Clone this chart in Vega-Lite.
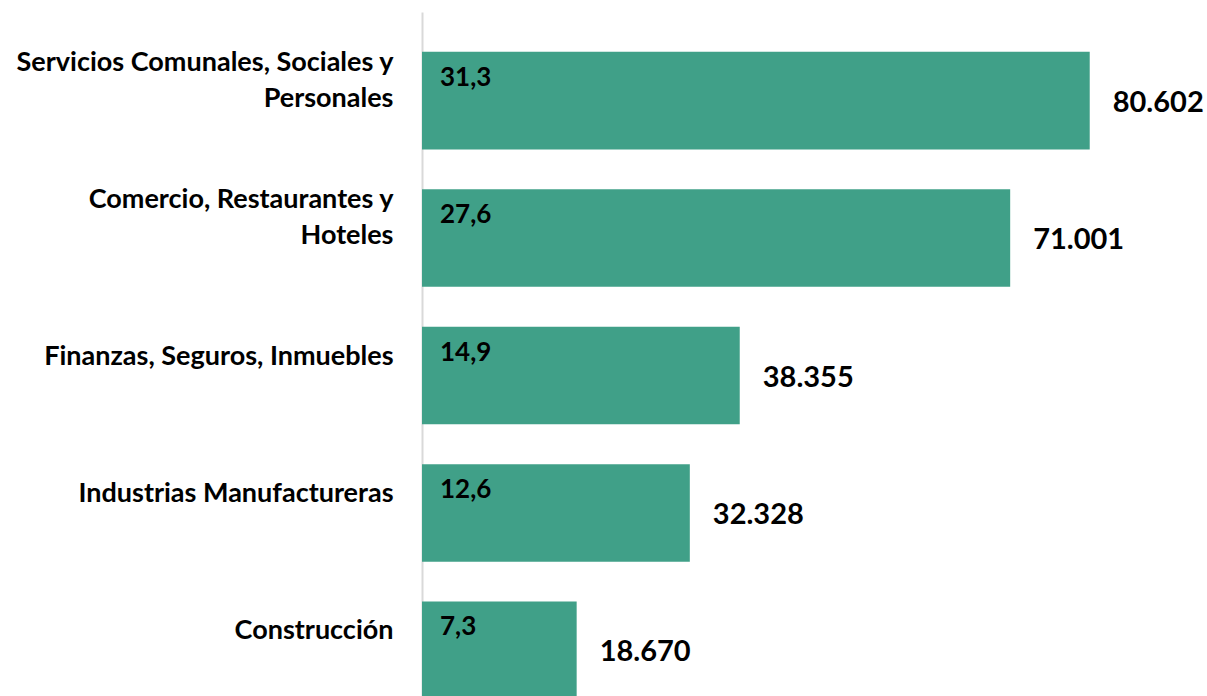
{
  "$schema": "https://vega.github.io/schema/vega-lite/v6.json",
  "width": 787,
  "height": 727,
  "autosize": "none",
  "padding": {"left": 422, "top": 12, "right": 0, "bottom": 0},
  "background": "white",
  "config": {
    "view": {"stroke": null},
    "font": "Lato",
    "locale": {"number": {"decimal": ",", "thousands": ".", "grouping": [3], "currency": ["", " €"]}}
  },
  "data": {
    "values": [
      {"sector": "Servicios Comunales, Sociales y|Personales", "total": 80602, "pct": 31.3},
      {"sector": "Comercio, Restaurantes y|Hoteles", "total": 71001, "pct": 27.6},
      {"sector": "Finanzas, Seguros, Inmuebles", "total": 38355, "pct": 14.9},
      {"sector": "Industrias Manufactureras", "total": 32328, "pct": 12.6},
      {"sector": "Construcción", "total": 18670, "pct": 7.3}
    ]
  },
  "encoding": {
    "y": {
      "field": "sector",
      "type": "nominal",
      "sort": null,
      "scale": {"paddingInner": 0.29, "paddingOuter": 0.29},
      "axis": {
        "title": null,
        "domainColor": "#d9d9d9",
        "domainWidth": 2,
        "ticks": false,
        "grid": false,
        "labelFont": "Lato",
        "labelFontSize": 27,
        "labelFontWeight": "bold",
        "labelColor": "#000000",
        "labelPadding": 29,
        "labelOffset": {"condition": {"test": "indexof(datum.value, '|') >= 0", "value": -38}, "value": -19},
        "labelLineHeight": 36,
        "labelLimit": 0,
        "labelExpr": "split(datum.label, '|')"
      }
    }
  },
  "layer": [
    {
      "mark": {"type": "bar", "color": "#40a088"},
      "encoding": {
        "x": {"field": "total", "type": "quantitative", "scale": {"domain": [0, 95000], "nice": false}, "axis": null}
      }
    },
    {
      "mark": {"type": "text", "align": "left", "baseline": "middle", "dx": 18, "dy": -23, "fontSize": 26, "fontWeight": "bold", "color": "#000000"},
      "encoding": {
        "x": {"datum": 0, "type": "quantitative"},
        "text": {"field": "pct", "type": "quantitative", "format": ".1f"}
      }
    },
    {
      "mark": {"type": "text", "align": "left", "baseline": "middle", "dx": 23, "dy": 2, "fontSize": 29, "fontWeight": "bold", "color": "#000000"},
      "encoding": {
        "x": {"field": "total", "type": "quantitative"},
        "text": {"field": "total", "type": "quantitative", "format": ",.0f"}
      }
    }
  ]
}
